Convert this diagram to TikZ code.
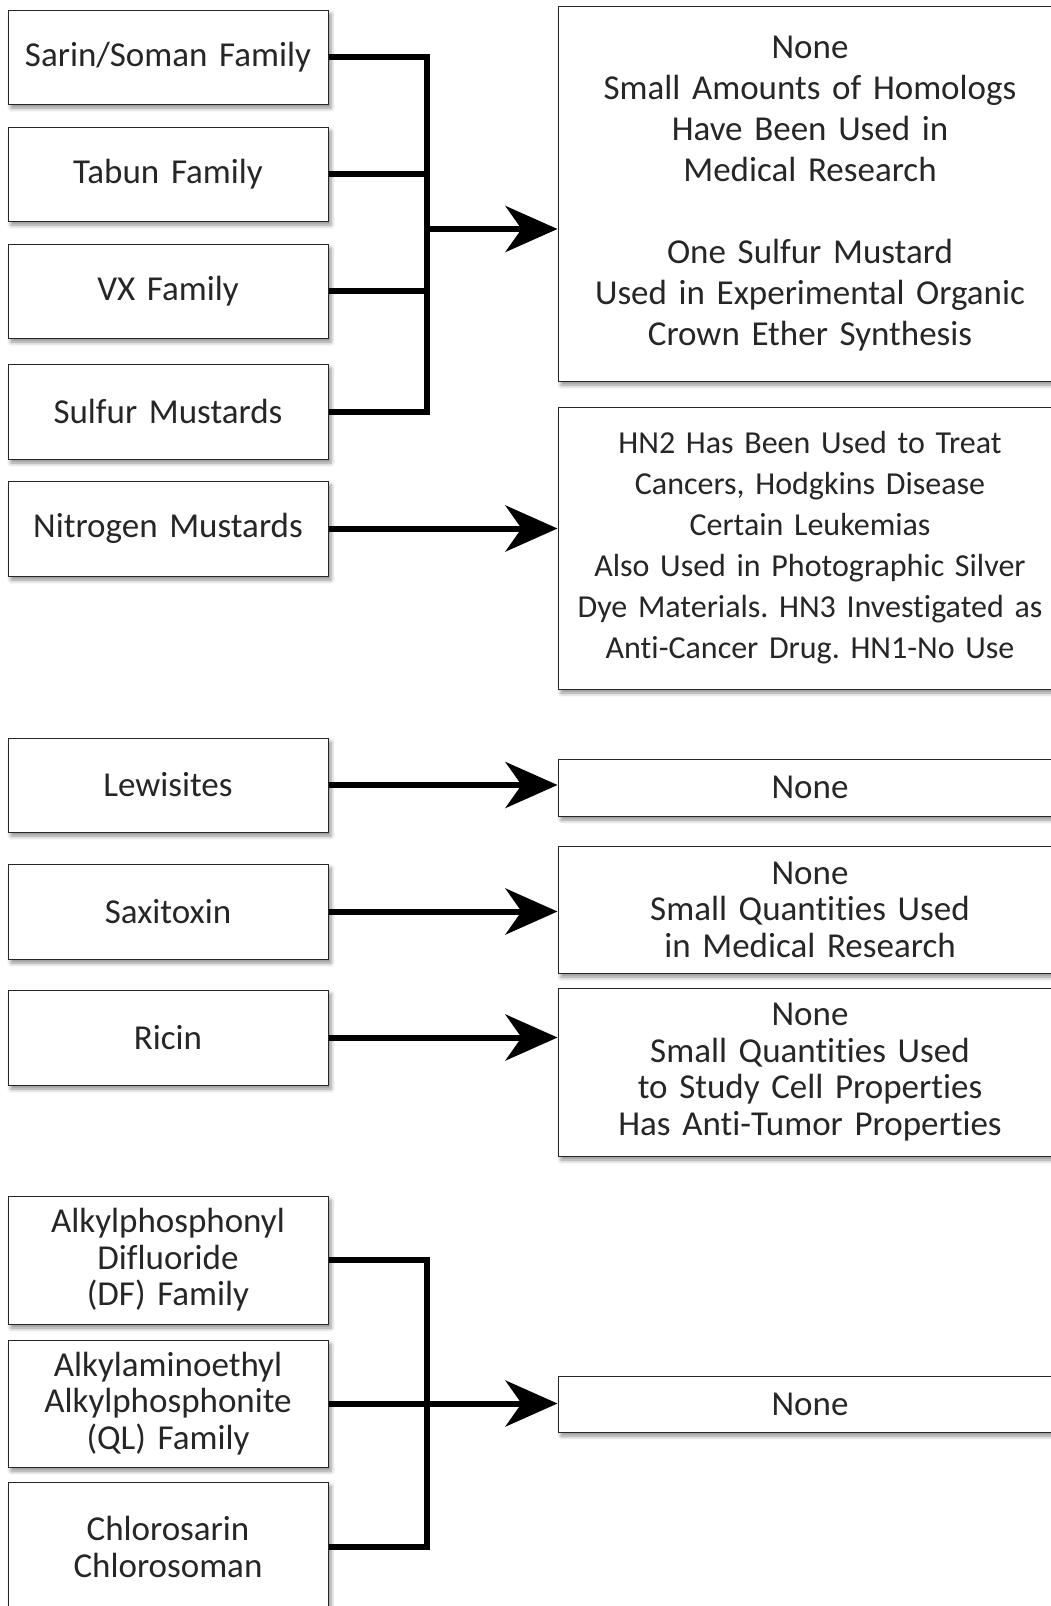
\documentclass[tikz,border=0pt]{standalone}
\usepackage{fontspec}
\setmainfont{Carlito}[WordSpace=0.8, Ligatures=NoCommon]
\frenchspacing
\usepackage{tikz}
\usetikzlibrary{arrows.meta,shadows.blur}

\tikzset{
  agent/.style={draw=black!85, fill=white, line width=1pt, text=black!85,
    minimum width=320pt, text width=316pt, align=center, inner sep=0pt,
    blur shadow={shadow xshift=3pt, shadow yshift=-4pt, shadow blur radius=4pt, shadow opacity=45},
    font=\fontsize{35}{36.5}\selectfont},
  usage/.style={agent, minimum width=504pt, text width=502pt},
  wide/.style={font=\fontsize{35}{41}\selectfont},
  link/.style={line width=6pt, line join=miter},
  arrow/.style={link, -{Stealth[length=52pt, width=46pt, inset=16pt]}}
}

\begin{document}
\begin{tikzpicture}[x=1pt, y=-1pt]
\useasboundingbox (0,0) rectangle (1051,1606);

% agents
\node[agent, minimum height=94pt] (sarin) at (168,57) {Sarin/Soman Family};
\node[agent, minimum height=94pt] (tabun) at (168,174) {Tabun Family};
\node[agent, minimum height=94pt] (vx) at (168,291) {VX Family};
\node[agent, minimum height=95pt] (sulfur) at (168,411.5) {Sulfur Mustards};
\node[agent, minimum height=95pt] (nitrogen) at (168,528.5) {Nitrogen Mustards};
\node[agent, minimum height=94pt] (lewisite) at (168,785) {Lewisites};
\node[agent, minimum height=95pt] (saxitoxin) at (168,911.5) {Saxitoxin};
\node[agent, minimum height=95pt] (ricin) at (168,1037.5) {Ricin};
\node[agent, minimum height=128pt] (df) at (168,1260) {Alkylphosphonyl\\Difluoride\\(DF) Family};
\node[agent, minimum height=127pt] (ql) at (168,1403.5) {Alkylaminoethyl\\Alkylphosphonite\\(QL) Family};
\node[agent, minimum height=130pt] (chloro) at (168,1547) {Chlorosarin\\Chlorosoman};

% uses
\node[usage, wide, minimum height=375pt] (use1) at (810,193.5) {None\\Small Amounts of Homologs\\Have Been Used in\\Medical Research\\[41pt]One Sulfur Mustard\\Used in Experimental Organic\\Crown Ether Synthesis};
\node[usage, minimum height=282pt, font=\fontsize{32}{41}\selectfont] (use2) at (810,548) {HN2 Has Been Used to Treat\\Cancers, Hodgkins Disease\\Certain Leukemias\\Also Used in Photographic Silver\\Dye Materials. HN3 Investigated as\\Anti-Cancer Drug. HN1-No Use};
\node[usage, minimum height=57pt] (use3) at (810,787.5) {None};
\node[usage, minimum height=127pt] (use4) at (810,909.5) {None\\Small Quantities Used\\in Medical Research};
\node[usage, minimum height=168pt] (use5) at (810,1072) {None\\Small Quantities Used\\to Study Cell Properties\\Has Anti-Tumor Properties};
\node[usage, minimum height=56pt] (use6) at (810,1404) {None};

% premier groupe
\coordinate (hub1) at (426,229);
\draw[link] (sarin.east) -- ++(98,0) |- (sulfur.east);
\draw[link] (tabun.east) -- ++(98,0);
\draw[link] (vx.east) -- ++(98,0);
\draw[arrow] (hub1) -- (hub1 -| use1.west);

% fleches simples
\draw[arrow] (nitrogen.east) -- (nitrogen.east -| use2.west);
\draw[arrow] (lewisite.east) -- (lewisite.east -| use3.west);
\draw[arrow] (saxitoxin.east) -- (saxitoxin.east -| use4.west);
\draw[arrow] (ricin.east) -- (ricin.east -| use5.west);

% dernier groupe
\draw[link] (df.east) -- ++(98,0) |- (chloro.east);
\draw[arrow] (ql.east) -- (ql.east -| use6.west);
\end{tikzpicture}
\end{document}
